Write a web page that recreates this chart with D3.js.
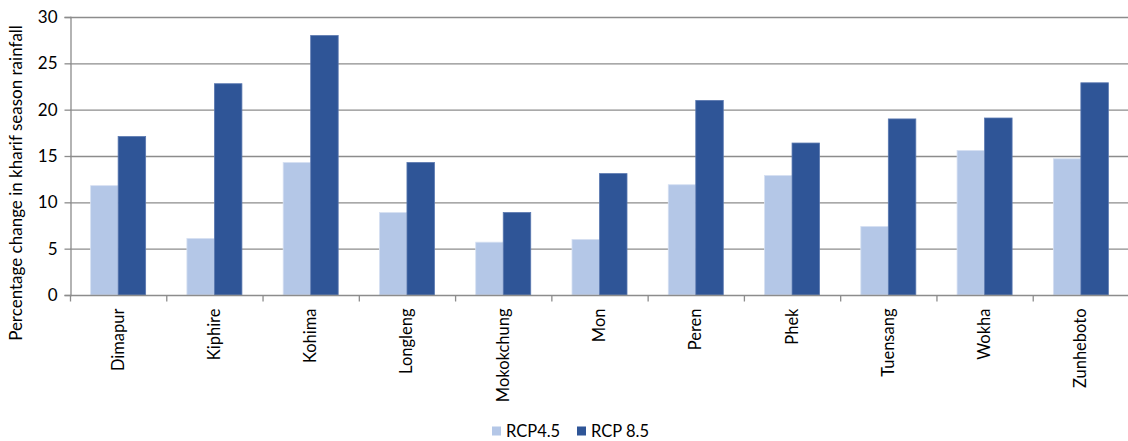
<!DOCTYPE html>
<html>
<head>
<meta charset="utf-8">
<script src="https://cdn.jsdelivr.net/npm/d3@7"></script>
<style>
  html, body { margin: 0; padding: 0; background: #fff; }
  svg { display: block; font-family: Lato, "Open Sans", sans-serif; }
</style>
</head>
<body>
<svg id="chart" width="1128" height="441"></svg>
<script>
// Districts and projected change in kharif season rainfall (%)
const districts = ["Dimapur", "Kiphire", "Kohima", "Longleng", "Mokokchung", "Mon",
                   "Peren", "Phek", "Tuensang", "Wokha", "Zunheboto"];
const rcp45 = [11.8, 6.1, 14.3, 8.9, 5.7, 6.0, 11.9, 12.9, 7.4, 15.6, 14.7];
const rcp85 = [17.1, 22.8, 28.0, 14.3, 8.9, 13.1, 21.0, 16.4, 19.0, 19.1, 22.9];
const seriesNames = ["RCP4.5", "RCP 8.5"];
const yTicks = [0, 5, 10, 15, 20, 25, 30];

const colors = ["#b4c7e7", "#2f5597"];

const svg = d3.select("#chart");
const margin = { left: 70, right: -1, top: 17, bottom: 146 };
const W = 1128, H = 441;
const x0 = margin.left, x1 = W - margin.right;
const y0 = H - margin.bottom, y1 = margin.top;

const x = d3.scaleBand().domain(districts).range([x0, x1]).paddingInner(0).paddingOuter(0);
const y = d3.scaleLinear().domain([0, 30]).range([y0, y1]);
const inner = d3.scaleBand().domain(seriesNames).range([0, x.bandwidth()]).paddingInner(0).paddingOuter(0.75);

// horizontal gridlines
svg.append("g")
  .selectAll("line")
  .data(yTicks.filter(d => d > 0))
  .join("line")
  .attr("x1", x0).attr("x2", W)
  .attr("y1", d => y(d) + 0.5).attr("y2", d => y(d) + 0.5)
  .attr("stroke", "#8c8c8c").attr("stroke-width", 1.3);

// bars
const rows = districts.map((d, i) => ({ district: d, values: [rcp45[i], rcp85[i]] }));
svg.append("g")
  .selectAll("g")
  .data(rows)
  .join("g")
  .attr("transform", d => `translate(${x(d.district)},0)`)
  .selectAll("rect")
  .data(d => d.values.map((v, j) => ({ key: seriesNames[j], v, j })))
  .join("rect")
  .attr("x", d => inner(d.key))
  .attr("width", inner.bandwidth())
  .attr("y", d => y(d.v))
  .attr("height", d => y(0) - y(d.v))
  .attr("fill", d => colors[d.j])
  .attr("stroke", d => d.j === 0 ? "#d6e0f2" : "#5a78b0")
  .attr("stroke-width", 0.8);

// y axis
const yAxis = d3.axisLeft(y).tickValues(yTicks).tickSize(6).tickPadding(7);
const gy = svg.append("g").attr("transform", `translate(${x0 + 0.5},0)`).call(yAxis);
gy.select(".domain").attr("stroke", "#8c8c8c").attr("stroke-width", 1.3);
gy.selectAll(".tick line").attr("stroke", "#8c8c8c").attr("stroke-width", 1.3);
gy.selectAll(".tick text").attr("font-size", 17).attr("fill", "#000")
  .attr("font-family", "Lato, sans-serif");

// x axis with tick marks at category boundaries
const gx = svg.append("g").attr("transform", `translate(0,${y0 + 0.5})`);
gx.append("line").attr("x1", x0).attr("x2", W).attr("stroke", "#8c8c8c").attr("stroke-width", 1.3);
gx.selectAll("line.sep")
  .data(districts)
  .join("line")
  .attr("class", "sep")
  .attr("x1", d => x(d) + 0.5).attr("x2", d => x(d) + 0.5)
  .attr("y1", 0).attr("y2", 6)
  .attr("stroke", "#8c8c8c").attr("stroke-width", 1.3);
gx.selectAll("text")
  .data(districts)
  .join("text")
  .attr("transform", d => `translate(${x(d) + x.bandwidth() / 2 + 5.5},13) rotate(-90)`)
  .attr("text-anchor", "end")
  .attr("font-size", 16.5)
  .attr("fill", "#000")
  .text(d => d);

// y axis title
svg.append("text")
  .attr("transform", `translate(22,${183}) rotate(-90)`)
  .attr("text-anchor", "middle")
  .attr("font-size", 17)
  .attr("fill", "#000")
  .text("Percentage change in kharif season rainfall");

// legend
const legend = svg.append("g").attr("transform", "translate(492,431)");
const legendX = [0, 85];
seriesNames.forEach((name, i) => {
  const g = legend.append("g").attr("transform", `translate(${legendX[i]},0)`);
  g.append("rect").attr("x", 0).attr("y", -4.5).attr("width", 9).attr("height", 9).attr("fill", colors[i]);
  g.append("text").attr("x", 14).attr("y", 6).attr("font-size", 16.5).attr("fill", "#000").text(name);
});
</script>
</body>
</html>
